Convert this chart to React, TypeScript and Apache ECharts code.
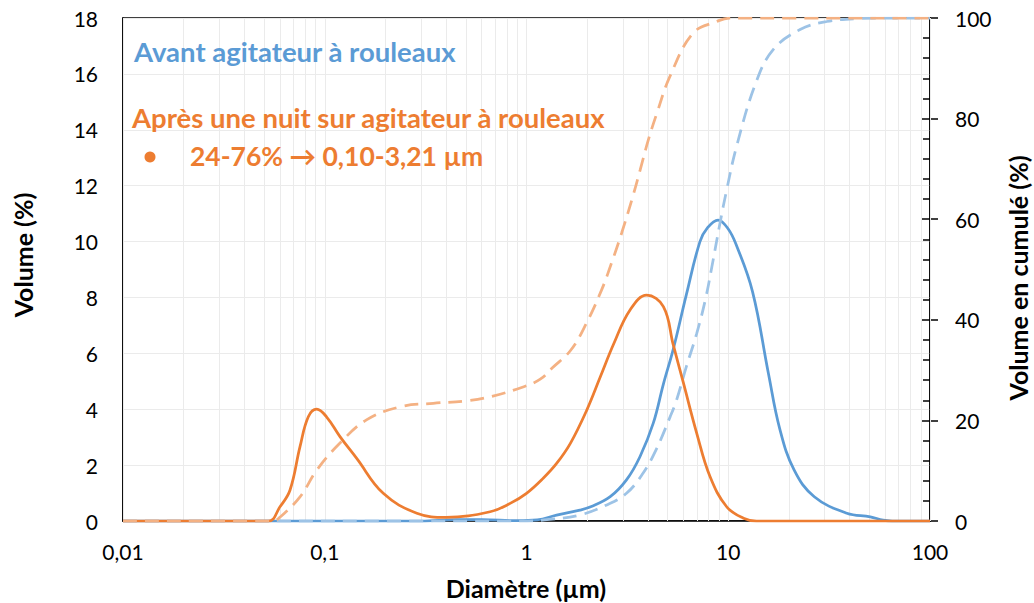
import React, { useEffect, useRef } from "react";
import * as echarts from "echarts";

// ---- Data (diameter in µm, volume in %) ----
const apresDiam = [0.01, 0.0525, 0.06, 0.0673, 0.0754, 0.0829, 0.0912, 0.102, 0.119, 0.144, 0.195, 0.286, 0.4, 0.66, 0.83, 1.0, 1.21, 1.41, 1.65, 1.99, 2.32, 2.71, 3.26, 3.94, 4.77, 5.34, 5.99, 6.98, 8.12, 9.82, 11.9, 13.8, 100];
const apresVol = [0, 0, 0.51, 1.11, 2.66, 3.73, 4.0, 3.73, 3.02, 2.24, 0.99, 0.28, 0.13, 0.33, 0.63, 0.99, 1.53, 2.06, 2.78, 3.97, 5.15, 6.35, 7.55, 8.08, 7.67, 6.3, 4.95, 3.14, 1.59, 0.51, 0.1, 0, 0];

const avantDiam = [0.01, 0.3, 0.45, 0.6, 0.9, 1.13, 1.41, 1.84, 2.08, 2.6, 3.13, 3.65, 4.25, 4.77, 5.34, 6.2, 7.24, 7.9, 8.9, 10.0, 11.0, 13.2, 15.8, 18.0, 21.2, 26.7, 38.7, 50.6, 58.5, 65, 100];
const avantVol = [0, 0, 0.05, 0.05, 0.01, 0.04, 0.21, 0.39, 0.51, 0.87, 1.47, 2.3, 3.5, 4.9, 6.15, 8.1, 10.0, 10.5, 10.77, 10.45, 9.85, 8.2, 5.3, 3.3, 1.83, 0.87, 0.28, 0.15, 0.03, 0, 0];

const apresCumDiam = [0.01, 0.055, 0.059, 0.0754, 0.0912, 0.119, 0.161, 0.236, 0.345, 0.505, 0.66, 0.97, 1.17, 1.34, 1.66, 1.98, 2.36, 2.64, 2.96, 3.33, 3.66, 4.02, 4.43, 5.14, 6.7, 8.76, 10.1, 100];
const apresCum = [0, 0, 0.5, 4.8, 10.1, 15.5, 20.1, 22.7, 23.4, 23.9, 24.7, 26.7, 28.2, 30.4, 34.0, 39.3, 46.0, 51.3, 57.2, 63.9, 69.8, 75.8, 81.1, 88.4, 97.0, 99.3, 100, 100];

const avantCumDiam = [0.01, 1.0, 1.3, 1.84, 2.5, 3.13, 3.78, 4.38, 5.15, 5.55, 6.2, 6.98, 7.7, 8.3, 9.1, 9.82, 11.0, 13.7, 16.7, 22.7, 30.8, 44.7, 60, 100];
const avantCum = [0, 0, 0.3, 1.2, 3.2, 5.5, 9.5, 14.1, 20.7, 24.1, 30.7, 37.3, 44.0, 50.6, 59.2, 65.8, 74.5, 87.1, 93.7, 97.7, 99.3, 99.9, 100, 100];

// vertical grid positions (log decades with 2..9 subdivisions)
const decades = [0.01, 0.1, 1, 10];
const subSteps = [1, 2, 3, 4, 5, 6, 7, 8, 9];

const legendAvant = "Avant agitateur à rouleaux";
const legendApres = "Après une nuit sur agitateur à rouleaux";
const legendNote = "24-76% \u2192 0,10-3,21 µm";
const yTitle = "Volume (%)";
const y2Title = "Volume en cumulé (%)";
const xTitle = "Diamètre (µm)";

const FONT = "Lato, 'Open Sans', 'DejaVu Sans', sans-serif";
const ORANGE = "#ED7D31";
const BLUE = "#5B9BD5";
const ORANGE_LIGHT = "#F4B183";
const BLUE_LIGHT = "#9DC3E6";

const pairs = (xs: number[], ys: number[]) => xs.map((x, i) => [x, ys[i]]);

export default function App() {
  const ref = useRef<HTMLDivElement>(null);

  useEffect(() => {
    if (!ref.current) return;
    const chart = echarts.init(ref.current, null, { renderer: "svg" });

    const gridValues: number[] = [];
    decades.forEach((d) => subSteps.forEach((s) => gridValues.push(+(d * s).toPrecision(3))));
    gridValues.push(100);

    const fmtX = (v: number) => parseFloat(Number(v).toPrecision(4)).toString().replace(".", ",");

    const textStyle = (text: string, color: string, size: number, weight: string, align = "left") => ({
      text,
      fill: color,
      font: `${weight} ${size}px ${FONT}`,
      fontFamily: FONT,
      fontSize: size,
      fontWeight: weight,
      align,
      textAlign: align,
      verticalAlign: "middle",
      textVerticalAlign: "middle",
    });

    chart.setOption({
      animation: false,
      backgroundColor: "#ffffff",
      textStyle: { fontFamily: FONT },
      grid: {
        left: 123,
        right: 104,
        top: 18,
        bottom: 82,
        show: true,
        borderColor: "#000",
        borderWidth: 1.5,
        backgroundColor: "transparent",
      },
      xAxis: {
        type: "log",
        logBase: 10,
        min: 0.01,
        max: 100,
        axisLine: { show: true, lineStyle: { color: "#000", width: 1.5 } },
        axisTick: { show: false },
        splitLine: { show: false },
        axisLabel: {
          color: "#000",
          fontSize: 21,
          fontFamily: FONT,
          margin: 20,
          formatter: fmtX,
        },
      },
      yAxis: [
        {
          type: "value",
          min: 0,
          max: 18,
          interval: 2,
          position: "left",
          axisLine: { show: true, lineStyle: { color: "#000", width: 1.5 } },
          axisTick: { show: false },
          splitLine: { show: true, lineStyle: { color: "#EBEBEB", width: 1 } },
          axisLabel: { color: "#000", fontSize: 21, fontFamily: FONT, margin: 25 },
        },
        {
          type: "value",
          min: 0,
          max: 100,
          interval: 20,
          position: "right",
          axisLine: { show: true, lineStyle: { color: "#000", width: 1.5 } },
          axisTick: { show: true, inside: false, length: 8, lineStyle: { color: "#000", width: 1.5 } },
          splitLine: { show: false },
          axisLabel: { color: "#000", fontSize: 21, fontFamily: FONT, margin: 25 },
        },
        {
          type: "value",
          min: 0,
          max: 100,
          interval: 20,
          position: "right",
          axisLine: { show: false },
          axisTick: { show: true, inside: true, length: 8, lineStyle: { color: "#000", width: 1.5 } },
          minorTick: { show: true, splitNumber: 5, length: 7, lineStyle: { color: "#000", width: 1.5 } },
          splitLine: { show: false },
          axisLabel: { show: false },
        },
      ],
      series: [
        {
          name: "grid",
          type: "line",
          data: [],
          silent: true,
          z: 1,
          markLine: {
            silent: true,
            z: 1,
            symbol: ["none", "none"],
            label: { show: false },
            lineStyle: { color: "#EBEBEB", width: 1, type: "solid" },
            data: gridValues.map((v) => ({ xAxis: v })),
          },
        },
        {
          name: "Avant",
          type: "line",
          yAxisIndex: 0,
          data: pairs(avantDiam, avantVol),
          showSymbol: false,
          smooth: 0.4,
          lineStyle: { color: BLUE, width: 2.75 },
          z: 3,
        },
        {
          name: "Avant cumulé",
          type: "line",
          yAxisIndex: 1,
          data: pairs(avantCumDiam, avantCum),
          showSymbol: false,
          smooth: 0.4,
          lineStyle: { color: BLUE_LIGHT, width: 2.75, type: [14, 8] },
          z: 4,
        },
        {
          name: "Après",
          type: "line",
          yAxisIndex: 0,
          data: pairs(apresDiam, apresVol),
          showSymbol: false,
          smooth: 0.4,
          lineStyle: { color: ORANGE, width: 2.75 },
          z: 5,
        },
        {
          name: "Après cumulé",
          type: "line",
          yAxisIndex: 1,
          data: pairs(apresCumDiam, apresCum),
          showSymbol: false,
          smooth: 0.4,
          lineStyle: { color: ORANGE_LIGHT, width: 2.75, type: [14, 8] },
          z: 6,
        },
      ],
      graphic: [
        { type: "text", x: 134, y: 51, z: 10, style: textStyle(legendAvant, BLUE, 27.5, "bold") },
        { type: "text", x: 132, y: 117, z: 10, style: textStyle(legendApres, ORANGE, 27.5, "bold") },
        { type: "circle", z: 10, shape: { cx: 150, cy: 157, r: 5.5 }, style: { fill: ORANGE } },
        { type: "text", x: 190, y: 156, z: 10, style: textStyle(legendNote, ORANGE, 26.5, "bold") },
        { type: "text", x: 23, y: 255, rotation: Math.PI / 2, z: 10, style: textStyle(yTitle, "#000", 25, "bold", "center") },
        { type: "text", x: 1018, y: 278, rotation: Math.PI / 2, z: 10, style: textStyle(y2Title, "#000", 25, "bold", "center") },
        { type: "text", x: 526, y: 588, z: 10, style: textStyle(xTitle, "#000", 25, "bold", "center") },
      ],
    });

    return () => chart.dispose();
  }, []);

  return (
    <div
      ref={ref}
      style={{ position: "fixed", left: 0, top: 0, width: 1034, height: 603, background: "#fff" }}
    />
  );
}
